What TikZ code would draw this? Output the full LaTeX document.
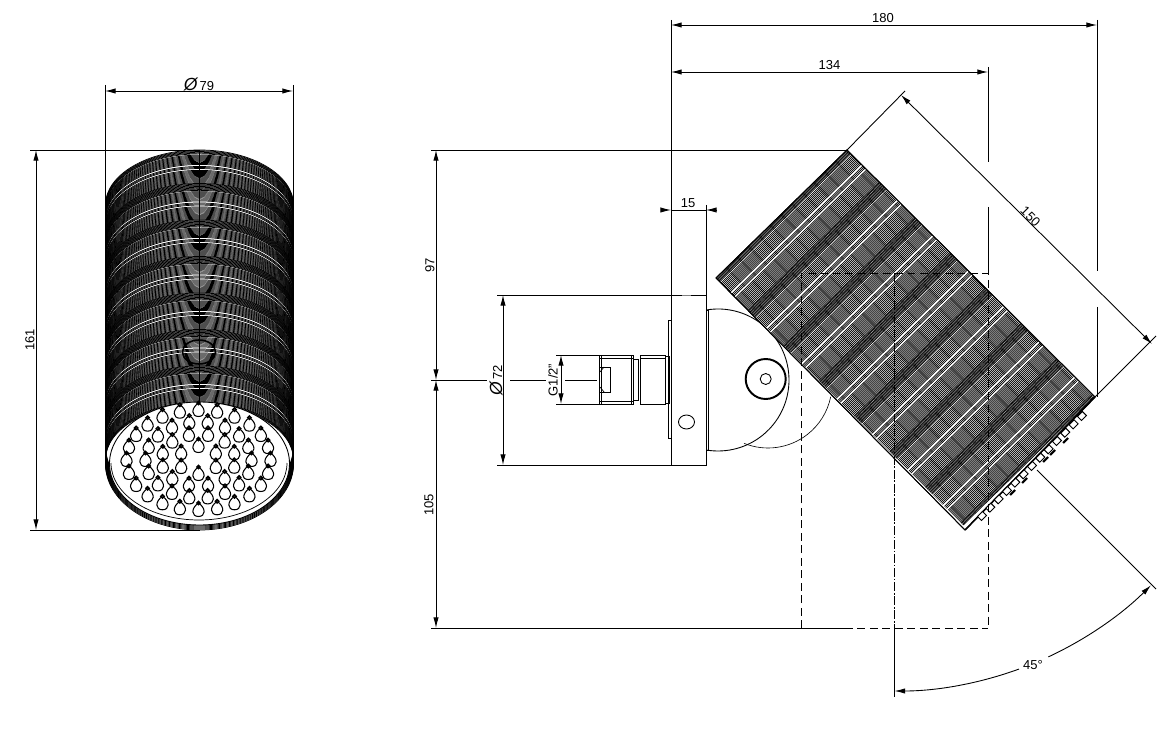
\documentclass[tikz,border=0pt]{standalone}
\usepackage{fontspec}
\setmainfont{Liberation Sans}
\usetikzlibrary{arrows.meta}
\tikzset{
 dimline/.style={line width=0.5pt},
 dimboth/.style={dimline,{Latex[length=6pt,width=3pt]}-{Latex[length=6pt,width=3pt]}},
 dimend/.style={dimline,-{Latex[length=6pt,width=3pt]}},
 dimtext/.style={font=\fontsize{7.4}{8}\selectfont,inner sep=0pt},
 outline/.style={line width=0.5pt},
 hidden/.style={line width=0.55pt,dash pattern=on 4.5pt off 2.6pt},
 rib/.style={line width=0.42pt},
 nozzle/.style={draw,line width=0.55pt,fill=white,rotate=45,minimum width=4pt,minimum height=3.2pt,inner sep=0pt},
 showerhole/.pic={
  \draw[line width=0.6pt] (0,7) .. controls (-8,1.5) and (-7,-6.5) .. (0,-6.5) .. controls (7,-6.5) and (8,1.5) .. (0,7);
  \draw[line width=0.9pt,fill=white] (0,7) circle[radius=1.6];
 }
}
\newcommand{\ribsteps}{0,0.75,...,3.75,5,6,...,14,16,17,18,19.8,20.8,...,31.8,32.5,33.2,34,34.7}
\begin{document}
\begin{tikzpicture}[x=0.02cm,y=0.02cm,yscale=-1]
\useasboundingbox (0,0) rectangle (1176,736);
%%%% front view
\foreach \r in {0,...,6}{
 \foreach \d in \ribsteps{
  \pgfmathsetmacro\yc{205+\r*36.5+\d*1.03}
  \draw[rib] (105.5,\yc) arc[start angle=180,end angle=360,x radius=94,y radius=55];
 }
}
\foreach \yc in {446,447,...,464}{
 \draw[rib] (105.5,\yc) arc[start angle=180,end angle=0,x radius=94,y radius=66];
}
\draw[line width=1.1pt] (105.5,205) -- (105.5,464);
\draw[line width=1.1pt] (293.5,205) -- (293.5,464);
\draw[line width=0.3pt] (199,150) -- (199,403);
\draw[line width=0.9pt] (199,352) ellipse[x radius=16.5,y radius=12];
\draw[outline,fill=white] (199.5,463.5) ellipse[x radius=90,y radius=61.5];
\draw[line width=0.4pt] (111,463) arc[start angle=180,end angle=0,x radius=88,y radius=57];
\foreach \n/\rx/\ry/\off in {24/72/50/0,18/53/38/0,12/37/26/15,6/20/14/30}{
 \pgfmathsetmacro\stepang{360/\n}
 \foreach \i in {1,...,\n}{
  \pgfmathsetmacro\hx{198.5+\rx*cos(\i*\stepang+\off)}
  \pgfmathsetmacro\hy{460+\ry*sin(\i*\stepang+\off)}
  \path (\hx,\hy) pic {showerhole};
 }
}
%%%% front view dimensions
\draw[dimline] (105,85) -- (105,205);
\draw[dimline] (293,85) -- (293,205);
\draw[dimboth] (105,91) -- (293,91);
\node[dimtext] (dia79) at (199,84) {{\fontsize{10}{10}\selectfont\itshape Ø}\,79};
\draw[dimline] (30,150) -- (200,150);
\draw[dimline] (30,530) -- (200,530);
\draw[dimboth] (36,150) -- (36,530);
\node[dimtext,rotate=90] (len161) at (30,340) {161};
%%%% side view, wall part
\draw[outline] (718,380) ++(261:71) arc[start angle=261,end angle=459,radius=71];
\draw[line width=0.35pt] (768,384) ++(112:64) arc[start angle=112,end angle=11.5,radius=64];
\draw[outline] (706,310) -- (708,310) -- (708,450) -- (706,450);
\draw[line width=1.1pt] (765.7,379) circle[radius=20];
\draw[outline] (765.7,379) circle[radius=5.5];
\draw[outline,fill=white] (671,295) rectangle (706,465);
\draw[outline] (668,320) rectangle (671,438);
\draw[outline] (686.5,422) ellipse[x radius=8,y radius=7];
\draw[line width=1pt,gray] (682,295.5) -- (691,295.5);
\draw[outline] (599,355) rectangle (633,404);
\draw[line width=0.3pt] (599,358) -- (633,358);
\draw[line width=0.3pt] (599,401) -- (633,401);
\draw[line width=0.3pt] (601,355) -- (601,404);
\draw[line width=0.3pt] (631,355) -- (631,404);
\draw[outline] (633,359) rectangle (638,400);
\draw[outline] (640,355) rectangle (665,404);
\draw[line width=0.3pt] (640,358) -- (665,358);
\draw[outline] (665,356) rectangle (669,403);
\draw[outline] (600,367) -- (610,367) -- (610,392) -- (600,392);
\draw[line width=0.4pt] (600,372) -- (604,367);
\draw[line width=0.4pt] (600,387) -- (604,392);
%%%% side view, head
\draw[outline,fill=white] (716,278) -- (847,150) -- (1095,397) -- (965,530) -- cycle;
\foreach \r in {0,...,6}{
 \foreach \d in \ribsteps{
  \pgfmathsetmacro\ribt{\r*35.4+\d}
  \draw[rib] (716+\ribt,278+\ribt) -- (847+\ribt,150+\ribt);
 }
}
\draw[line width=0.9pt] (1095,397) -- (965,530);
\draw[outline] (716,278) -- (847,150) -- (1095,397);
\draw[outline] (716,278) -- (965,530);
\foreach \i in {0,...,12}{
 \pgfmathsetmacro\nx{982+\i*8.33}
 \pgfmathsetmacro\ny{516-\i*8.33}
 \node[nozzle] (noz\i) at (\nx,\ny) {};
}
\foreach \i/\j in {1010/495,1022/483,1043/462,1050/455,1063/443}{
 \draw[line width=1.2pt] (\i,\j) -- (\i+5,\j-5);
}
%%%% hidden lines
\draw[hidden] (801,628) -- (801,273) -- (988,273) -- (988,628);
\draw[hidden] (845,628) -- (988,628);
\draw[line width=0.55pt,dash pattern=on 5pt off 1pt on 1pt off 1pt] (894.5,273) -- (894.5,628);
%%%% side view dimensions
\draw[dimline] (671,20) -- (671,295);
\draw[dimline] (1097,20) -- (1097,271);
\draw[dimline] (1097,307) -- (1097,397);
\draw[dimline] (988,67) -- (988,162);
\draw[dimline] (988,207) -- (988,273);
\draw[dimboth] (671,25) -- (1097,25);
\node[dimtext] (len180) at (883,18) {180};
\draw[dimboth] (671,72) -- (988,72);
\node[dimtext] (len134) at (829.5,65) {134};
\draw[dimline] (706,205) -- (706,295);
\draw[dimline] (671,210) -- (706,210);
\draw[dimend] (661,210) -- (671,210);
\draw[dimend] (717,210) -- (706,210);
\node[dimtext] (len15) at (688,203) {15};
\draw[dimline] (847,150) -- (905,91);
\draw[dimline] (1095,397) -- (1156,336);
\draw[dimboth] (901,95) -- (1152,344);
\node[dimtext,rotate=-45] (len150) at (1030.5,216.5) {150};
\draw[dimline] (431,150) -- (847,150);
\draw[dimline] (431,628) -- (845,628);
\draw[dimline] (431,380) -- (487,380);
\draw[dimline] (510,380) -- (546,380);
\draw[dimline] (565,380) -- (597,380);
\draw[dimboth] (436,150) -- (436,380);
\draw[dimboth] (436,628) -- (436,380);
\node[dimtext,rotate=90] (len97) at (430,265) {97};
\node[dimtext,rotate=90] (len105) at (429,505) {105};
\draw[dimline] (497,295) -- (671,295);
\draw[dimline] (497,465) -- (671,465);
\draw[dimboth] (503,295) -- (503,465);
\node[dimtext,rotate=90] (dia72) at (496,380) {{\fontsize{10}{10}\selectfont\itshape Ø}\,72};
\draw[dimline] (556,355) -- (599,355);
\draw[dimline] (556,404) -- (599,404);
\draw[dimboth] (561,355) -- (561,404);
\node[dimtext,rotate=90] (thread) at (553,380) {G1/2"};
\draw[dimline] (894.5,628) -- (894.5,697);
\draw[dimline] (1037,470) -- (1156,589);
\draw[dimline,{Latex[length=6pt,width=3pt]}-] (894.5,327) ++(90:364) arc[start angle=90,end angle=70,radius=364];
\draw[dimend] (894.5,327) ++(65:364) arc[start angle=65,end angle=45.2,radius=364];
\node[dimtext] (ang45) at (1033,665) {45°};
\end{tikzpicture}
\end{document}
